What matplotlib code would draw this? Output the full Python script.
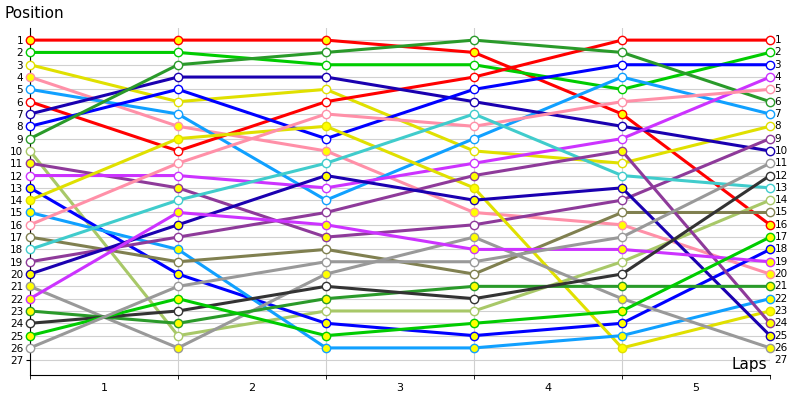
import matplotlib
matplotlib.use("Agg")
import matplotlib.pyplot as plt

# position of each driver at start and after laps 1..5
laps = [0, 1, 2, 3, 4, 5]
driver_colors = [
    "#ff0000", "#00cc00", "#e0e000", "#ff90a8", "#10a0ff", "#ff0000",
    "#1a00b0", "#0000ff", "#2a9a2a", "#a8c868", "#8e3a9a", "#cc33ff",
    "#0000ff", "#e0e000", "#10a0ff", "#ff90a8", "#808050", "#40cccc",
    "#8e3a9a", "#1a00b0", "#999999", "#cc33ff", "#2a9a2a", "#333333",
    "#00cc00", "#999999",
]
positions = [
    [1, 1, 1, 2, 7, 16], [2, 2, 3, 3, 5, 2], [3, 6, 5, 10, 11, 8],
    [4, 8, 10, 15, 16, 20], [5, 7, 14, 9, 4, 7], [6, 10, 6, 4, 1, 1],
    [7, 4, 4, 6, 8, 10], [8, 5, 9, 5, 3, 3], [9, 3, 2, 1, 2, 6],
    [10, 25, 23, 23, 19, 14], [11, 13, 17, 16, 14, 9], [12, 12, 13, 11, 9, 4],
    [13, 20, 24, 25, 24, 18], [14, 9, 8, 13, 26, 23], [15, 18, 26, 26, 25, 22],
    [16, 11, 7, 8, 6, 5], [17, 19, 18, 20, 15, 15], [18, 14, 11, 7, 12, 13],
    [19, 17, 15, 12, 10, 24], [20, 16, 12, 14, 13, 25], [21, 26, 20, 17, 22, 26],
    [22, 15, 16, 18, 18, 19], [23, 24, 22, 21, 21, 21], [24, 23, 21, 22, 20, 12],
    [25, 22, 25, 24, 23, 17], [26, 21, 19, 19, 17, 11],
]
# positions whose marker is filled yellow, per lap column
yellow_marks = [
    [1, 4, 11, 13, 14, 15, 20, 21, 22, 23, 25],
    [1, 8, 9, 13, 15, 16, 18, 20, 22, 24, 26],
    [1, 8, 10, 12, 16, 17, 20, 22, 24, 25, 26],
    [2, 12, 13, 14, 15, 17, 18, 21, 24, 25, 26],
    [7, 10, 13, 16, 18, 21, 22, 23, 24, 25, 26],
    [16, 17, 18, 19, 20, 21, 22, 23, 24, 25, 26],
]
pos_labels = list(range(1, 28))
lap_labels = ["1", "2", "3", "4", "5"]

fig = plt.figure(figsize=(8, 4), dpi=100)
ax = fig.add_axes([0.0375, 0.0625, 0.925, 0.868])

for col, pos in zip(driver_colors, positions):
    ax.plot(laps, pos, color=col, lw=2.2, zorder=2, clip_on=False)
    for lap, p in zip(laps, pos):
        face = "#ffff00" if p in yellow_marks[lap] else "white"
        ax.plot(lap, p, "o", ms=6, mfc=face, mec=col, mew=1.0, zorder=3, clip_on=False)

ax.set_xlim(0, 5)
ax.set_ylim(28.2, 0)
ax.set_yticks(pos_labels)
ax.set_yticklabels([str(p) for p in pos_labels], fontsize=7.5)
ax.tick_params(axis="y", length=3, pad=2)
for p in pos_labels:
    ax.text(5.03, p, str(p), fontsize=7.5, va="center", ha="left")
    ax.axhline(p, color="#d0d0d0", lw=0.8, zorder=0)
for lap in laps:
    ax.axvline(lap, color="#d0d0d0", lw=0.8, zorder=0)

ax.set_xticks([0.5, 1.5, 2.5, 3.5, 4.5])
ax.set_xticklabels(lap_labels, fontsize=8)
ax.set_xticks(laps, minor=True)
ax.tick_params(axis="x", which="major", length=0, pad=6)
ax.tick_params(axis="x", which="minor", length=3)

for s in ["top", "right"]:
    ax.spines[s].set_visible(False)
ax.spines["left"].set_color("black")
ax.spines["bottom"].set_color("black")

fig.text(0.005, 0.985, "Position", fontsize=11, va="top", ha="left")
ax.text(4.86, 27.7, "Laps", fontsize=11, va="baseline", ha="center")

fig.savefig("out.png", dpi=100)
